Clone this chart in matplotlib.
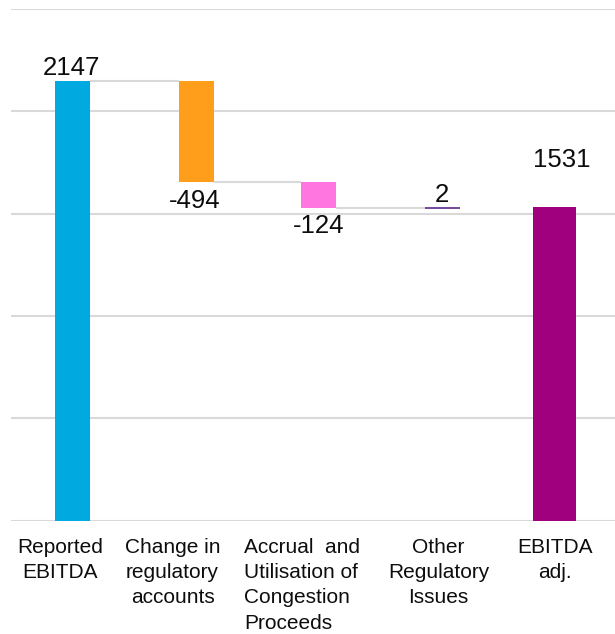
import matplotlib.pyplot as plt

plt.rcParams['font.family'] = ['Liberation Sans', 'DejaVu Sans']

# EBITDA bridge, values in the chart's unit
categories = ["Reported\nEBITDA", "Change in\nregulatory\naccounts",
              "Accrual  and\nUtilisation of\nCongestion\nProceeds",
              "Other\nRegulatory\nIssues", "EBITDA\nadj."]
values = [2147, -494, -124, 2, 1531]
is_total = [True, False, False, False, True]
colors = ["#00a9e0", "#ff9e1b", "#ff76e0", "#5b2a86", "#a0007e"]

# layout: bar centres / widths in category units
bar_x = [0, 1.008, 2.0, 3.008, 3.919]
bar_w = [0.285, 0.285, 0.285, 0.285, 0.35]
cat_x = [-0.102, 0.813, 1.394, 2.976, 3.923]
cat_ha = ["center", "center", "left", "center", "center"]
label_dx = [-1, -1.5, 0, -1, 7.5]
label_dy = [6, -26, -25, 5, 40]


def main():
    fig = plt.figure(figsize=(6.15, 6.34), dpi=100)
    ax = fig.add_axes([11 / 615, (634 - 520.7) / 634, 604 / 615, (520.7 - 9) / 634])
    ax.set_xlim(-0.5, 4.41)
    ax.set_ylim(0, 2500)

    for y in range(0, 2501, 500):
        ax.axhline(y, color="#d9d9d9", lw=1.5, zorder=0)

    running = 0
    bottoms, tops = [], []
    for v, tot in zip(values, is_total):
        if tot:
            bottom, top = 0, v
            running = v
        else:
            new = running + v
            bottom, top = min(running, new), max(running, new)
            running = new
        bottoms.append(bottom)
        tops.append(top)

    for i, v in enumerate(values):
        if abs(v) < 10:
            ax.hlines((bottoms[i] + tops[i]) / 2, bar_x[i] - bar_w[i] / 2,
                      bar_x[i] + bar_w[i] / 2, color=colors[i], lw=1.2, zorder=3)
        else:
            ax.bar(bar_x[i], tops[i] - bottoms[i], bottom=bottoms[i], width=bar_w[i],
                   color=colors[i], zorder=3)

    # connectors between consecutive steps
    level = 0
    for i in range(len(values) - 2):
        level = values[i] if is_total[i] else level + values[i]
        ax.hlines(level, bar_x[i] + bar_w[i] / 2, bar_x[i + 1] - bar_w[i + 1] / 2,
                  color="#d9d9d9", lw=1.5, zorder=2)

    for i, v in enumerate(values):
        anchor = bottoms[i] if v < 0 and not is_total[i] else tops[i]
        ax.annotate(str(v), xy=(bar_x[i], anchor), xytext=(label_dx[i], label_dy[i]),
                    textcoords="offset pixels", ha="center", va="baseline",
                    fontsize=18.5, color="#0d0d0d")

    for i, cat in enumerate(categories):
        ax.annotate(cat, xy=(cat_x[i], 0), xycoords=("data", "axes fraction"),
                    xytext=(0, -17), textcoords="offset pixels", ha=cat_ha[i],
                    va="top", fontsize=15, linespacing=1.42, color="#0d0d0d",
                    multialignment=cat_ha[i])

    ax.set_xticks([])
    ax.set_yticks([])
    for s in ax.spines.values():
        s.set_visible(False)

    fig.savefig("out.png", dpi=100)


if __name__ == "__main__":
    main()
